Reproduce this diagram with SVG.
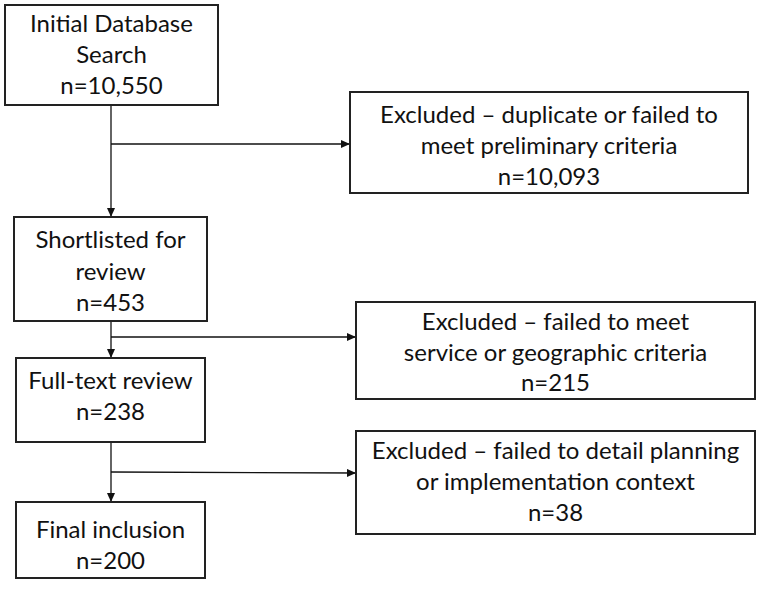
<svg xmlns="http://www.w3.org/2000/svg" width="760" height="593" viewBox="0 0 760 593">
<defs>
<marker id="ah" markerWidth="9" markerHeight="8" refX="9" refY="4" orient="auto" markerUnits="userSpaceOnUse">
<path d="M0,0 L9,4 L0,8 z" fill="#111"/>
</marker>
<style>
.box{fill:#fff;stroke:#222;stroke-width:2}
.t{font-family:Lato,"Liberation Sans",sans-serif;font-size:24px;fill:#111;text-anchor:middle}
.c{stroke:#111;stroke-width:1.3;fill:none}
</style>
</defs>
<rect width="760" height="593" fill="#fff"/>
<g id="connectors">
<line class="c" x1="111" y1="105" x2="111" y2="217" marker-end="url(#ah)"/>
<line class="c" x1="111" y1="144" x2="350" y2="144" marker-end="url(#ah)"/>
<line class="c" x1="111" y1="321" x2="111" y2="358" marker-end="url(#ah)"/>
<line class="c" x1="111" y1="337" x2="356" y2="337" marker-end="url(#ah)"/>
<line class="c" x1="111" y1="442" x2="111" y2="502" marker-end="url(#ah)"/>
<line class="c" x1="111" y1="472" x2="356" y2="473" marker-end="url(#ah)"/>
</g>
<g id="n1">
<rect class="box" x="5" y="5" width="213" height="100"/>
<text class="t" x="111.5" y="32">Initial Database</text>
<text class="t" x="111.5" y="63">Search</text>
<text class="t" x="111.5" y="94">n=10,550</text>
</g>
<g id="n2">
<rect class="box" x="350" y="92" width="398" height="101"/>
<text class="t" x="549" y="123">Excluded – duplicate or failed to</text>
<text class="t" x="549" y="154">meet preliminary criteria</text>
<text class="t" x="549" y="185">n=10,093</text>
</g>
<g id="n3">
<rect class="box" x="14" y="217" width="193" height="104"/>
<text class="t" x="110.5" y="248">Shortlisted for</text>
<text class="t" x="110.5" y="280">review</text>
<text class="t" x="110.5" y="311">n=453</text>
</g>
<g id="n4">
<rect class="box" x="356" y="302" width="399" height="97"/>
<text class="t" x="555.5" y="330">Excluded – failed to meet</text>
<text class="t" x="555.5" y="361">service or geographic criteria</text>
<text class="t" x="555.5" y="391">n=215</text>
</g>
<g id="n5">
<rect class="box" x="16" y="358" width="189" height="84"/>
<text class="t" x="110.5" y="389">Full-text review</text>
<text class="t" x="110.5" y="420">n=238</text>
</g>
<g id="n6">
<rect class="box" x="16" y="502" width="189" height="76"/>
<text class="t" x="110.5" y="538">Final inclusion</text>
<text class="t" x="110.5" y="569">n=200</text>
</g>
<g id="n7">
<rect class="box" x="356" y="431" width="399" height="103"/>
<text class="t" x="555.5" y="459">Excluded – failed to detail planning</text>
<text class="t" x="555.5" y="490">or implementation context</text>
<text class="t" x="555.5" y="521">n=38</text>
</g>
</svg>
